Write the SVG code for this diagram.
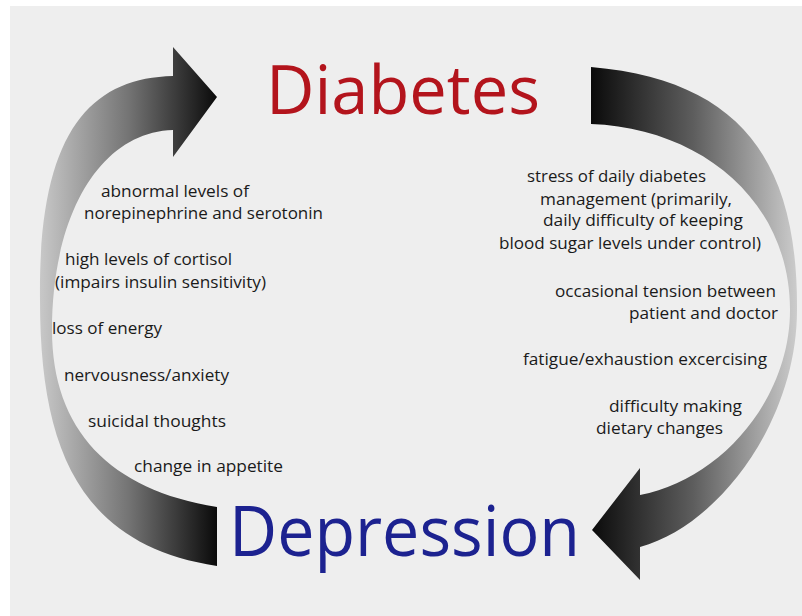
<svg xmlns="http://www.w3.org/2000/svg" width="802" height="616" viewBox="0 0 802 616">
<defs>
<linearGradient id="gl" gradientUnits="userSpaceOnUse" x1="40" y1="0" x2="217" y2="0">
<stop offset="0" stop-color="#c8c8c8"/>
<stop offset="0.5" stop-color="#747474"/>
<stop offset="1" stop-color="#0a0a0a"/>
</linearGradient>
<linearGradient id="gr" gradientUnits="userSpaceOnUse" x1="591" y1="0" x2="797" y2="0">
<stop offset="0" stop-color="#0a0a0a"/>
<stop offset="0.5" stop-color="#5e5e5e"/>
<stop offset="1" stop-color="#cccccc"/>
</linearGradient>
</defs>
<style>
.t{font-family:"Open Sans","DejaVu Sans",sans-serif;font-size:16px;fill:#1a1a1a}
.title{font-family:"Open Sans","DejaVu Sans",sans-serif}
</style>
<rect x="0" y="0" width="802" height="616" fill="#ffffff"/>
<rect x="10" y="6" width="792" height="610" fill="#eeeeee"/>
<g id="connectors">
<path id="arrow-depression-to-diabetes" fill="url(#gl)" d="M217,507 C110,490 52,430 52,330 C52,215 100,132 173,130 L173,157 L217,97 L173,47 L173,76 C88,78 38,135 40,300 C40,450 80,545 217,566 Z"/>
<path id="arrow-diabetes-to-depression" fill="url(#gr)" d="M591,67 C740,80 798,160 797,310 C797,420 720,525 640,547 L640,580 L592,530 L640,468 L640,495 C720,480 790,400 790,310 C790,200 700,128 591,124 Z"/>
</g>
<g id="diabetes">
<text class="title" x="266" y="114" font-size="68" fill="#b3141c" textLength="274" lengthAdjust="spacingAndGlyphs">Diabetes</text>
</g>
<g id="depression">
<text class="title" x="229" y="556" font-size="70" fill="#1c2290" textLength="351" lengthAdjust="spacingAndGlyphs">Depression</text>
</g>
<g id="left-labels">
<text class="t" x="101" y="197" textLength="148" lengthAdjust="spacingAndGlyphs">abnormal levels of</text>
<text class="t" x="84" y="219" textLength="239" lengthAdjust="spacingAndGlyphs">norepinephrine and serotonin</text>
<text class="t" x="65" y="265" textLength="167" lengthAdjust="spacingAndGlyphs">high levels of cortisol</text>
<text class="t" x="55" y="288" textLength="211" lengthAdjust="spacingAndGlyphs">(impairs insulin sensitivity)</text>
<text class="t" x="52" y="334" textLength="110" lengthAdjust="spacingAndGlyphs">loss of energy</text>
<text class="t" x="64" y="381" textLength="165" lengthAdjust="spacingAndGlyphs">nervousness/anxiety</text>
<text class="t" x="88" y="427" textLength="138" lengthAdjust="spacingAndGlyphs">suicidal thoughts</text>
<text class="t" x="134" y="472" textLength="149" lengthAdjust="spacingAndGlyphs">change in appetite</text>
</g>
<g id="right-labels">
<text class="t" x="527" y="182" textLength="179" lengthAdjust="spacingAndGlyphs">stress of daily diabetes</text>
<text class="t" x="540" y="205" textLength="192" lengthAdjust="spacingAndGlyphs">management (primarily,</text>
<text class="t" x="543" y="226" textLength="200" lengthAdjust="spacingAndGlyphs">daily difficulty of keeping</text>
<text class="t" x="499" y="249" textLength="262" lengthAdjust="spacingAndGlyphs">blood sugar levels under control)</text>
<text class="t" x="555" y="297" textLength="221" lengthAdjust="spacingAndGlyphs">occasional tension between</text>
<text class="t" x="629" y="319" textLength="149" lengthAdjust="spacingAndGlyphs">patient and doctor</text>
<text class="t" x="523" y="365" textLength="244" lengthAdjust="spacingAndGlyphs">fatigue/exhaustion excercising</text>
<text class="t" x="609" y="412" textLength="133" lengthAdjust="spacingAndGlyphs">difficulty making</text>
<text class="t" x="596" y="434" textLength="127" lengthAdjust="spacingAndGlyphs">dietary changes</text>
</g>
</svg>
